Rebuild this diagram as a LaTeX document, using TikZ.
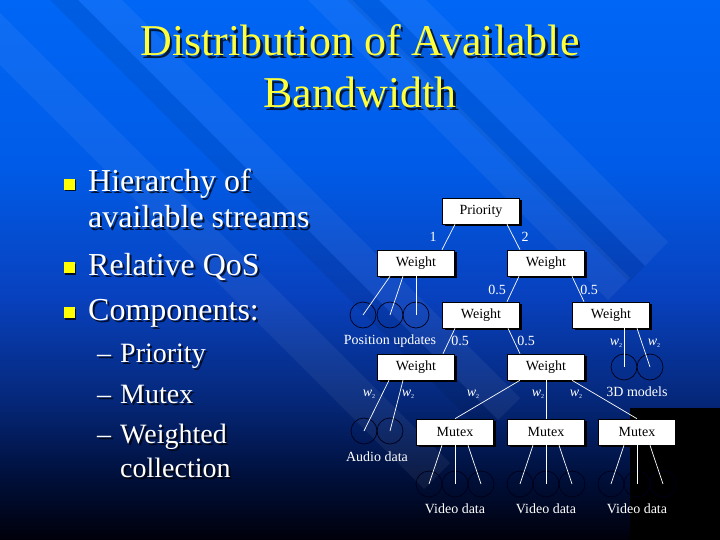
\documentclass[tikz,border=0pt]{standalone}
\usepackage{fontspec}
\setmainfont{Liberation Serif}
\usetikzlibrary{shadows,calc}
\definecolor{bg0}{RGB}{0,0,10}
\definecolor{bg1}{RGB}{0,16,60}
\definecolor{bg2}{RGB}{5,38,118}
\definecolor{bg3}{RGB}{8,65,190}
\definecolor{bg4}{RGB}{0,92,232}
\definecolor{bg5}{RGB}{0,102,245}
\definecolor{ttlyellow}{RGB}{255,255,60}
\definecolor{bulyellow}{RGB}{255,255,0}
\definecolor{circnavy}{RGB}{0,0,25}
\pgfdeclareverticalshading{slidebg}{100bp}{color(0bp)=(bg0); color(25bp)=(bg0); color(31bp)=(bg1); color(37.5bp)=(bg2); color(47.5bp)=(bg3); color(60bp)=(bg4); color(75bp)=(bg5); color(100bp)=(bg5)}
\newcommand\wlab{\textit{w}\raisebox{-2pt}{\fontsize{6}{6}\selectfont 2}}
\newcommand\shtxt[5]{%
  \node[#4, txtshadow, anchor=base west] (#1s) at (#2+2,#3+2) {#5};
  \node[#4, anchor=base west] (#1) at (#2,#3) {#5};}
\begin{document}
\begin{tikzpicture}[x=1pt,y=-1pt,
  txtshadow/.style={text=black, text opacity=0.75},
  ttl/.style={text=ttlyellow, font=\fontsize{44}{44}\selectfont, inner sep=0pt},
  lvlone/.style={text=white, font=\fontsize{32}{32}\selectfont, inner sep=0pt},
  lvltwo/.style={text=white, font=\fontsize{28}{28}\selectfont, inner sep=0pt},
  bul/.style={fill=bulyellow, minimum size=11pt, inner sep=0pt, drop shadow={shadow xshift=1.5pt, shadow yshift=-1.5pt, opacity=0.8, fill=black}},
  box/.style={draw=black, line width=0.6pt, fill=white, minimum width=77pt, minimum height=26pt, inner sep=0pt, text=black, font=\fontsize{14}{14}\selectfont, drop shadow={shadow xshift=2pt, shadow yshift=-2pt, opacity=1, fill=black}},
  circ/.style={circle, draw=circnavy, line width=0.7pt, minimum size=26pt, inner sep=0pt},
  conn/.style={white, line width=0.7pt},
  lbl/.style={text=white, font=\fontsize{14}{14}\selectfont, inner sep=0pt},
  band/.style={fill=white, fill opacity=0.055},
  bandsh/.style={fill=black, fill opacity=0.07}]
\useasboundingbox (0,0) rectangle (720,540);
\shade[shading=slidebg] (0,0) rectangle (720,540);
% decorative diagonal bands
\fill[bandsh] (645,266) -- ++(-16,16) -- ++(-700,-700) -- ++(16,-16) -- cycle;
\fill[band] (668,242) -- ++(-23,24) -- ++(-700,-700) -- ++(23,-24) -- cycle;
\fill[band] (630,278) -- ++(-22,22) -- ++(-700,-700) -- ++(22,-22) -- cycle;
\fill[band] (520,398) -- ++(-22,22) -- ++(-700,-700) -- ++(22,-22) -- cycle;
\fill[bandsh] (498,420) -- ++(-14,14) -- ++(-700,-700) -- ++(14,-14) -- cycle;
\fill[band] (450,463) -- ++(-26,26) -- ++(-700,-700) -- ++(26,-26) -- cycle;
% black corner
\fill[black] (630,408) rectangle (720,540);
% title
\node[ttl, txtshadow, anchor=base] (t1s) at (362.5,58.5) {Distribution of Available};
\node[ttl, anchor=base] (t1) at (360,56) {Distribution of Available};
\node[ttl, txtshadow, anchor=base] (t2s) at (362.5,110.5) {Bandwidth};
\node[ttl, anchor=base] (t2) at (360,108) {Bandwidth};
% bullets
\node[bul] (q1) at (69,184.5) {};
\node[bul] (q2) at (69,267.5) {};
\node[bul] (q3) at (69,312.5) {};
\shtxt{b1}{88}{192}{lvlone}{Hierarchy of}
\shtxt{b1b}{88}{228}{lvlone}{available streams}
\shtxt{b2}{88}{275}{lvlone}{Relative QoS}
\shtxt{b3}{88}{320}{lvlone}{Components:}
\shtxt{d1}{97}{362}{lvltwo}{–}
\shtxt{s1}{120}{362}{lvltwo}{Priority}
\shtxt{d2}{97}{403}{lvltwo}{–}
\shtxt{s2}{120}{403}{lvltwo}{Mutex}
\shtxt{d3}{97}{443}{lvltwo}{–}
\shtxt{s3}{120}{443}{lvltwo}{Weighted}
\shtxt{s3b}{120}{477}{lvltwo}{collection}
% diagram boxes
\node[box] (pr) at (481,211) {Priority};
\node[box] (w1) at (416,263) {Weight};
\node[box] (w2) at (546,263) {Weight};
\node[box] (w3) at (481,315) {Weight};
\node[box] (w4) at (611,315) {Weight};
\node[box] (w5) at (416,367) {Weight};
\node[box] (w6) at (546,367) {Weight};
\node[box] (m1) at (455,432) {Mutex};
\node[box] (m2) at (546,432) {Mutex};
\node[box] (m3) at (637,432) {Mutex};
% circles
\node[circ] (p1) at (363,315) {};
\node[circ] (p2) at (390,315) {};
\node[circ] (p3) at (416,315) {};
\node[circ] (c1) at (624,367) {};
\node[circ] (c2) at (650,367) {};
\node[circ] (a1) at (364,431) {};
\node[circ] (a2) at (390,431) {};
\node[circ] (v1) at (429,484) {};
\node[circ] (v2) at (455,484) {};
\node[circ] (v3) at (481,484) {};
\node[circ] (v4) at (520,484) {};
\node[circ] (v5) at (546,484) {};
\node[circ] (v6) at (572,484) {};
\node[circ] (v7) at (611,484) {};
\node[circ] (v8) at (637,484) {};
\node[circ] (v9) at (663,484) {};
% connectors
\draw[conn] ([xshift=-26pt]pr.south) -- ([xshift=26pt]w1.north);
\draw[conn] ([xshift=26pt]pr.south) -- ([xshift=-26pt]w2.north);
\draw[conn] ([xshift=-26pt]w1.south) -- (p1.center);
\draw[conn] ([xshift=-13pt]w1.south) -- (p2.center);
\draw[conn] (w1.south) -- (p3.center);
\draw[conn] ([xshift=-27pt]w2.south) -- ([xshift=26pt]w3.north);
\draw[conn] ([xshift=26pt]w2.south) -- ([xshift=-27pt]w4.north);
\draw[conn] ([xshift=-26pt]w3.south) -- ([xshift=27pt]w5.north);
\draw[conn] ([xshift=27pt]w3.south) -- ([xshift=-26pt]w6.north);
\draw[conn] ([xshift=13pt]w4.south) -- (c1.center);
\draw[conn] ([xshift=26pt]w4.south) -- (c2.center);
\draw[conn] ([xshift=-27pt]w5.south) -- (a1.center);
\draw[conn] ([xshift=-13pt]w5.south) -- (a2.center);
\draw[conn] ([xshift=-26pt]w6.south) -- (m1.north);
\draw[conn] (w6.south) -- (m2.north);
\draw[conn] ([xshift=26pt]w6.south) -- (m3.north);
\draw[conn] ([xshift=-13pt]m1.south) -- (v1.center);
\draw[conn] (m1.south) -- (v2.center);
\draw[conn] ([xshift=13pt]m1.south) -- (v3.center);
\draw[conn] ([xshift=-13pt]m2.south) -- (v4.center);
\draw[conn] (m2.south) -- (v5.center);
\draw[conn] ([xshift=13pt]m2.south) -- (v6.center);
\draw[conn] ([xshift=-13pt]m3.south) -- (v7.center);
\draw[conn] (m3.south) -- (v8.center);
\draw[conn] ([xshift=13pt]m3.south) -- (v9.center);
% edge labels
\node[lbl] (e1) at (433,237) {1};
\node[lbl] (e2) at (525,237) {2};
\node[lbl] (e3) at (497,290) {0.5};
\node[lbl] (e4) at (589,290) {0.5};
\node[lbl] (e5) at (460,341) {0.5};
\node[lbl] (e6) at (526,341) {0.5};
\node[lbl] (e7) at (616,343) {\wlab};
\node[lbl] (e8) at (654,343) {\wlab};
\node[lbl] (e9) at (369,394) {\wlab};
\node[lbl] (e10) at (408,394) {\wlab};
\node[lbl] (e11) at (473,394) {\wlab};
\node[lbl] (e12) at (538,394) {\wlab};
\node[lbl] (e13) at (576,394) {\wlab};
% group labels
\node[lbl] (gp) at (390,341) {Position updates};
\node[lbl] (g3d) at (637,392) {3D models};
\node[lbl] (gau) at (377,457) {Audio data};
\node[lbl] (gv1) at (455,509) {Video data};
\node[lbl] (gv2) at (546,509) {Video data};
\node[lbl] (gv3) at (637,509) {Video data};
\end{tikzpicture}
\end{document}
